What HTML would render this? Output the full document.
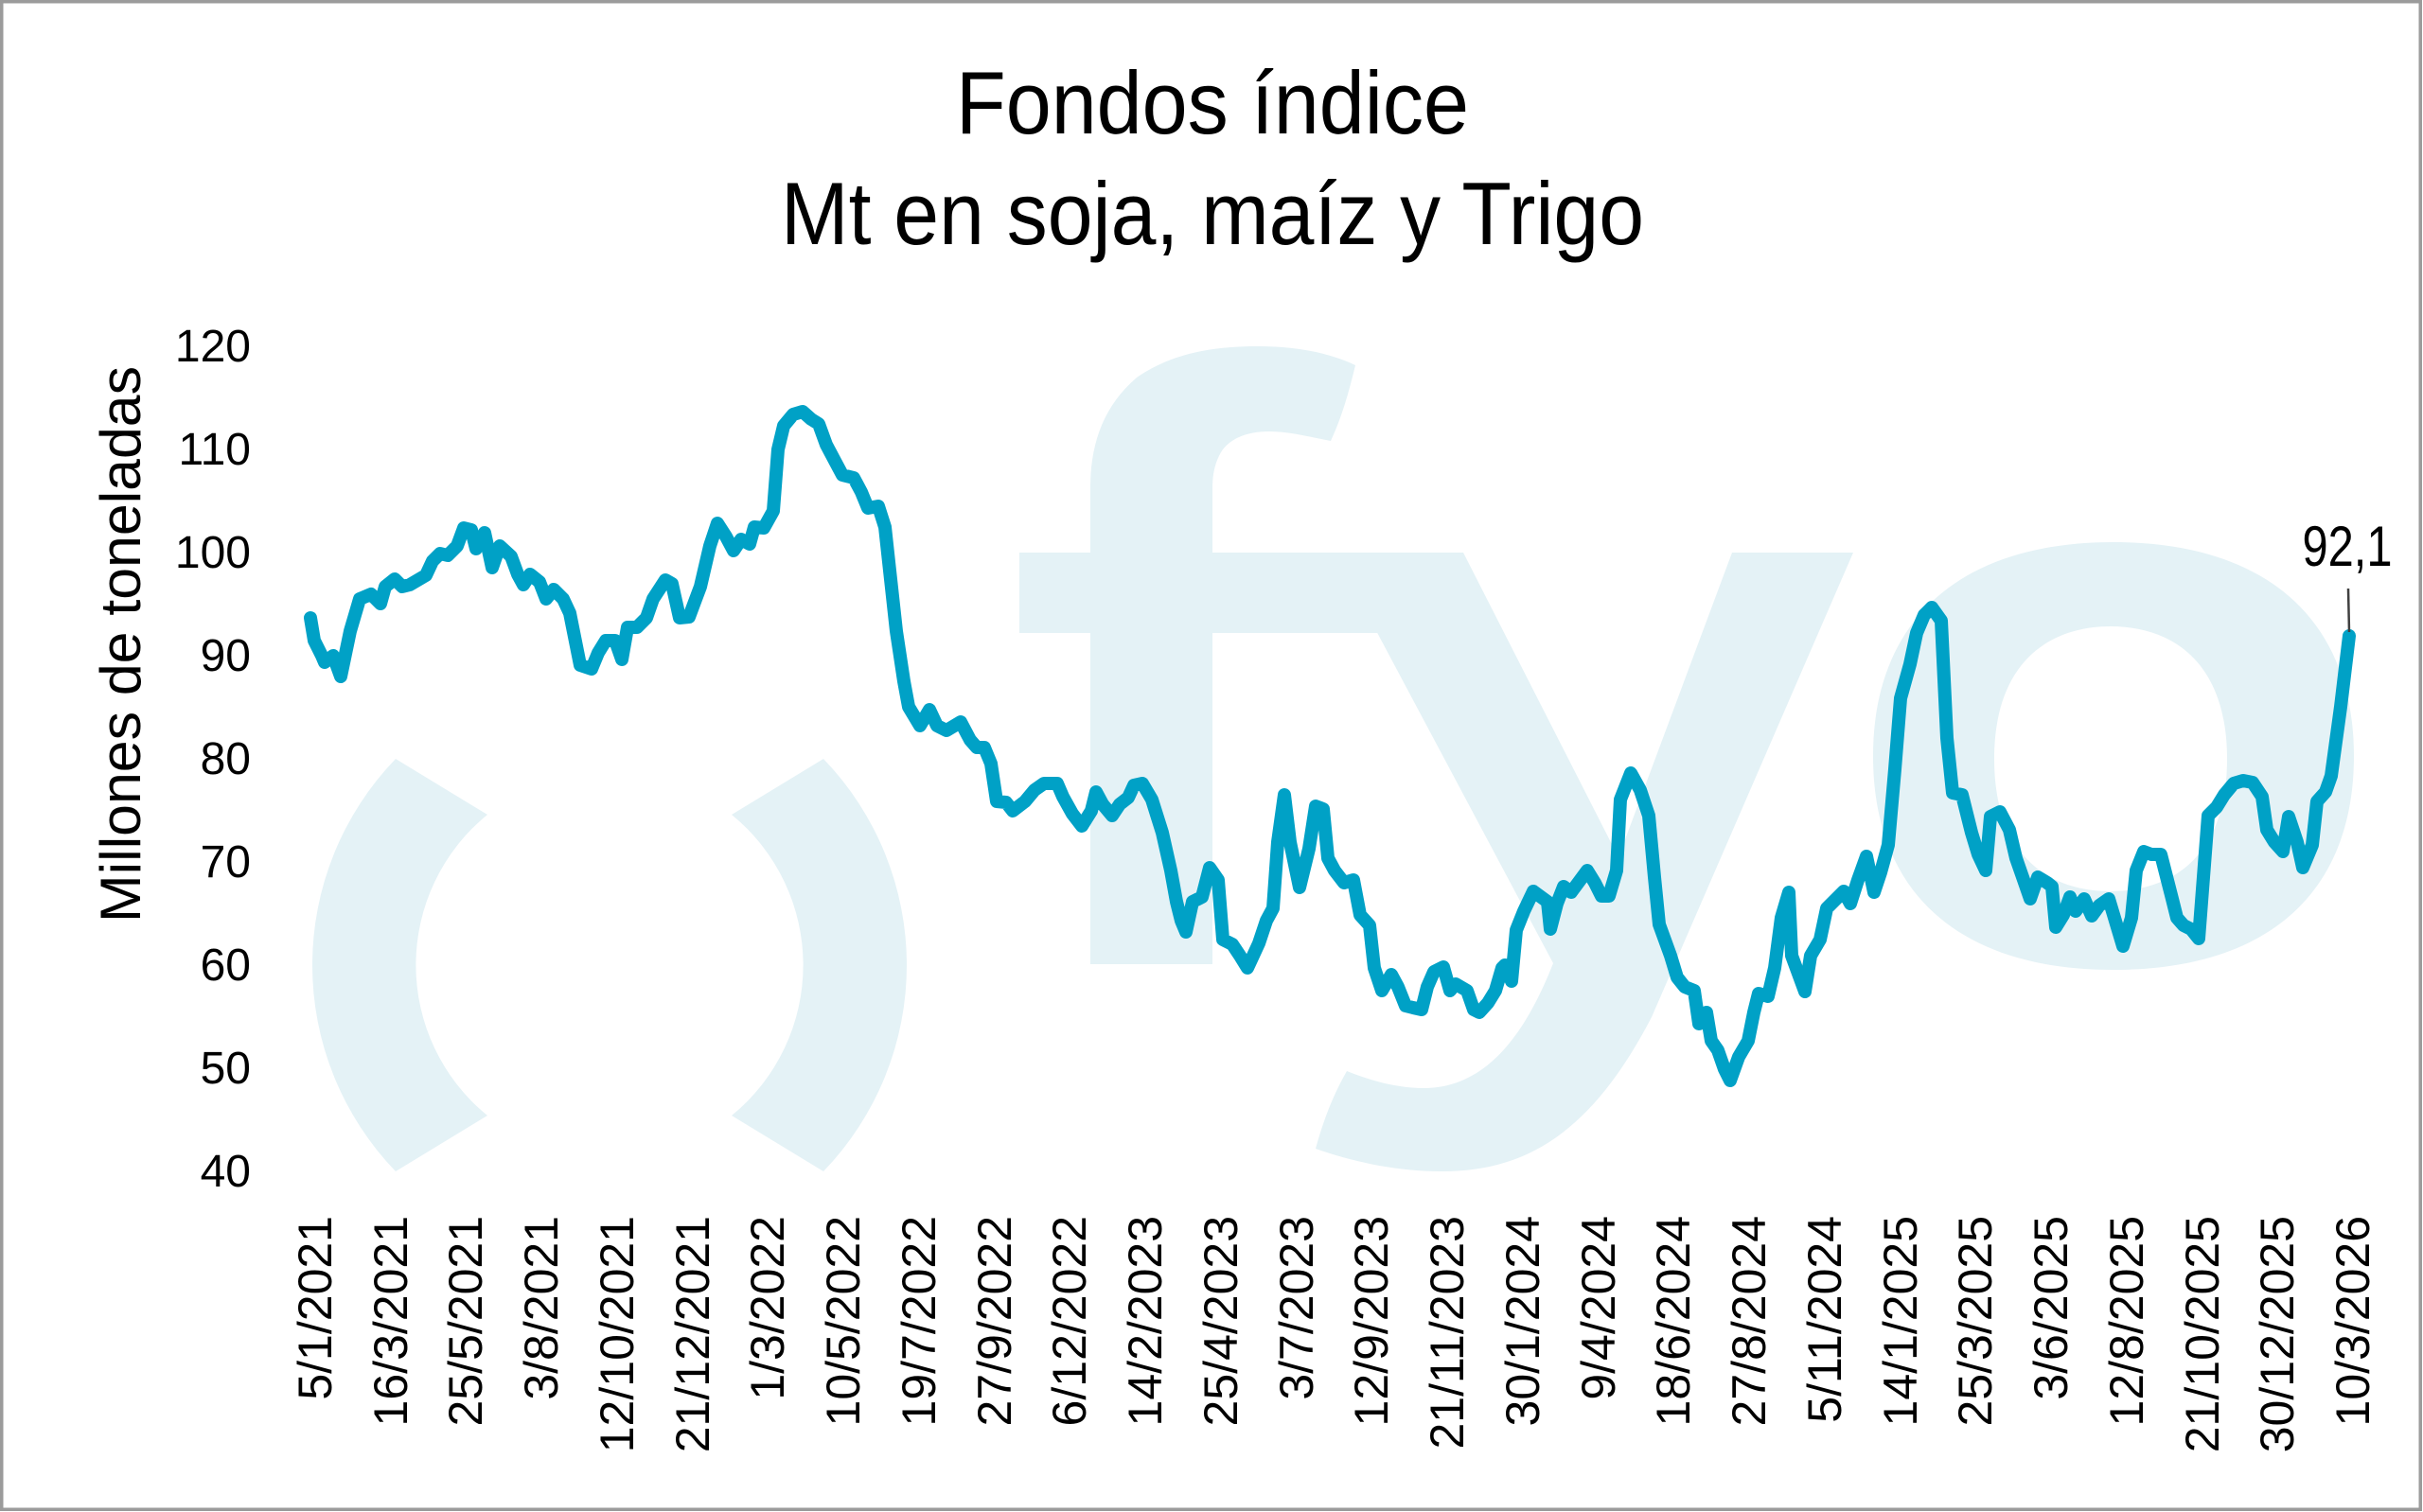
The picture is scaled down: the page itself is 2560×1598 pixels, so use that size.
<!DOCTYPE html>
<html>
<head>
<meta charset="utf-8">
<style>
  html, body { margin: 0; padding: 0; background: #ffffff; }
  body { width: 2560px; height: 1598px; overflow: hidden; }
  svg { display: block; }
  text { font-family: "Liberation Sans", "DejaVu Sans", sans-serif; fill: #000; }
</style>
</head>
<body>
<svg width="2560" height="1598" viewBox="0 0 2560 1598" xmlns="http://www.w3.org/2000/svg">
  <rect x="0" y="0" width="2560" height="1598" fill="#ffffff"/>

  <!-- Watermark logo -->
  <g fill="#e4f2f6">
    <!-- left arc -->
    <path d="M418,802 A314,314 0 0,0 418,1238 L515,1179 A205,205 0 0,1 515,861 Z"/>
    <!-- right arc -->
    <path d="M870,802 A314,314 0 0,1 870,1238 L773,1179 A205,205 0 0,0 773,861 Z"/>
    <!-- f stem + hook -->
    <path d="M1152,1019 L1152,516 C1152,470 1165,430 1201,399 C1240,372 1285,366 1329,366 C1370,366 1405,373 1432,386 C1425,415 1418,440 1406,466 C1385,462 1362,456 1341,456 C1315,456 1298,465 1290,478 C1283,490 1281,503 1281,516 L1281,1019 Z"/>
    <!-- f crossbar -->
    <rect x="1077" y="584" width="400" height="85"/>
    <!-- y -->
    <path d="M1410,584 L1546,584 L1710,906 L1830,584 L1958,584 L1745,1075 C1680,1200 1610,1238 1523,1238 C1475,1238 1430,1228 1390,1214 C1398,1185 1408,1158 1423,1132 C1450,1143 1478,1150 1504,1150 C1560,1150 1605,1110 1641,1018 Z"/>
    <!-- o -->
    <path fill-rule="evenodd" d="M2233,573 C2400,573 2487,660 2487,799 C2487,940 2400,1025 2233,1025 C2066,1025 1979,940 1979,799 C1979,660 2066,573 2233,573 Z M2230,662 C2165,662 2107,700 2107,802 C2107,905 2165,942 2230,942 C2295,942 2353,905 2353,802 C2353,700 2295,662 2230,662 Z"/>
  </g>

  <!-- Title -->
  <text x="1281" y="141" font-size="94" text-anchor="middle" textLength="542" lengthAdjust="spacingAndGlyphs">Fondos índice</text>
  <text x="1281" y="258" font-size="94" text-anchor="middle" textLength="912" lengthAdjust="spacingAndGlyphs">Mt en soja, maíz y Trigo</text>

  <!-- Y axis title -->
  <text transform="translate(148,681) rotate(-90)" font-size="60" text-anchor="middle" textLength="588" lengthAdjust="spacingAndGlyphs">Millones de toneladas</text>

  <!-- Y tick labels -->
  <g font-size="48" text-anchor="end">
    <text x="265" y="382">120</text>
    <text x="265" y="491">110</text>
    <text x="265" y="600">100</text>
    <text x="265" y="709">90</text>
    <text x="265" y="818">80</text>
    <text x="265" y="927">70</text>
    <text x="265" y="1036">60</text>
    <text x="265" y="1145">50</text>
    <text x="265" y="1254">40</text>
  </g>

  <!-- X tick labels -->
  <g font-size="50" text-anchor="end">
    <text transform="translate(350,1285) rotate(-90)">5/1/2021</text>
    <text transform="translate(430,1285) rotate(-90)">16/3/2021</text>
    <text transform="translate(509,1285) rotate(-90)">25/5/2021</text>
    <text transform="translate(589,1285) rotate(-90)">3/8/2021</text>
    <text transform="translate(669,1285) rotate(-90)">12/10/2021</text>
    <text transform="translate(749,1285) rotate(-90)">21/12/2021</text>
    <text transform="translate(828,1285) rotate(-90)">1/3/2022</text>
    <text transform="translate(908,1285) rotate(-90)">10/5/2022</text>
    <text transform="translate(988,1285) rotate(-90)">19/7/2022</text>
    <text transform="translate(1068,1285) rotate(-90)">27/9/2022</text>
    <text transform="translate(1147,1285) rotate(-90)">6/12/2022</text>
    <text transform="translate(1227,1285) rotate(-90)">14/2/2023</text>
    <text transform="translate(1307,1285) rotate(-90)">25/4/2023</text>
    <text transform="translate(1387,1285) rotate(-90)">3/7/2023</text>
    <text transform="translate(1466,1285) rotate(-90)">12/9/2023</text>
    <text transform="translate(1546,1285) rotate(-90)">21/11/2023</text>
    <text transform="translate(1626,1285) rotate(-90)">30/1/2024</text>
    <text transform="translate(1706,1285) rotate(-90)">9/4/2024</text>
    <text transform="translate(1785,1285) rotate(-90)">18/6/2024</text>
    <text transform="translate(1865,1285) rotate(-90)">27/8/2024</text>
    <text transform="translate(1945,1285) rotate(-90)">5/11/2024</text>
    <text transform="translate(2025,1285) rotate(-90)">14/1/2025</text>
    <text transform="translate(2104,1285) rotate(-90)">25/3/2025</text>
    <text transform="translate(2184,1285) rotate(-90)">3/6/2025</text>
    <text transform="translate(2264,1285) rotate(-90)">12/8/2025</text>
    <text transform="translate(2344,1285) rotate(-90)">21/10/2025</text>
    <text transform="translate(2423,1285) rotate(-90)">30/12/2025</text>
    <text transform="translate(2503,1285) rotate(-90)">10/3/2026</text>
  </g>

  <!-- Series line -->
  <polyline fill="none" stroke="#00a1c6" stroke-width="14" stroke-linejoin="round" stroke-linecap="round" points="
328,653 332,677 340,693 343,700 352,693 360,715 370,667 380,633 392,628 402,638 407,620 417,612 425,620 433,618 450,608 457,593 465,585 473,587 483,577 490,558 498,560 503,580 512,563 520,600 528,577 540,588 547,607 553,618 560,607 570,615 577,633 585,623 595,633 602,648 613,703 625,707 632,690 640,677 650,677 657,697 663,663 673,663 683,653 690,633 703,613 710,617 718,653 728,652 740,620 750,577 758,553 767,567 775,582 783,570
792,575 797,557 807,558 817,540 822,475 828,450 838,438 848,435 857,443 865,448 873,470 882,487 890,502 902,505 910,520 917,537 928,535 935,557 940,603 947,667 955,720 960,747 972,767 982,750 990,767 1000,772 1015,763 1025,782 1032,790 1040,790 1047,807 1053,847 1063,848 1070,857 1083,847 1093,835 1103,828 1117,828 1123,842 1133,860 1143,873 1153,857 1158,837 1165,850 1175,862 1183,850 1192,843 1198,830 1207,828 1217,845
1228,880 1237,920 1243,953 1248,973 1253,985 1260,953 1270,948 1278,917 1287,930 1292,993 1302,998 1310,1010 1318,1023 1330,997 1338,973 1345,960 1350,890 1357,840 1363,890 1373,938 1383,897 1390,852 1398,855 1403,907 1410,920 1420,933 1430,930 1437,967 1447,978 1452,1023 1460,1047 1470,1030 1477,1043 1485,1063 1493,1065 1502,1067 1508,1043 1515,1027 1525,1022 1532,1047 1538,1040 1550,1047 1557,1067 1563,1070 1572,1060 1580,1047 1587,1023 1590,1020 1597,1037 1602,983 1610,963 1620,942 1635,953 1638,982 1645,955 1652,937 1660,943 1677,920 1685,933 1692,947
1700,947 1708,920 1712,845 1723,817 1733,835 1742,862 1748,927 1753,977 1765,1010 1772,1033 1780,1043 1790,1047 1795,1082 1803,1070 1808,1100 1815,1110 1822,1130 1828,1142 1837,1117 1847,1100 1853,1070 1858,1050 1868,1053 1875,1023 1882,970 1890,943 1893,1010 1907,1048 1913,1010 1923,993 1930,960 1938,952 1948,942 1955,955 1963,930 1972,905 1980,943 1987,922 1995,893 2002,813 2008,738 2018,702 2025,669 2033,650 2041,642 2051,656 2057,780 2063,838 2073,840 2083,880 2090,903 2098,920 2103,863 2113,858 2123,877 2130,907 2137,927 2145,950 2153,927 2163,933
2168,937 2172,980 2180,967 2187,948 2193,963 2202,950 2210,968 2218,957 2228,950 2243,1000 2252,970 2257,920 2265,900 2273,903 2283,903 2295,950 2300,970 2307,978 2315,982 2323,992 2333,862 2342,853 2350,840 2360,828 2370,825 2380,827 2390,842 2395,877 2403,890 2412,900 2418,863 2427,890 2433,917 2443,893 2448,847 2457,837 2463,820 2473,747 2482,672"/>

  <!-- Data label -->
  <line x1="2481" y1="622" x2="2482" y2="668" stroke="#404040" stroke-width="2.5"/>
  <text x="2480" y="598" font-size="60" text-anchor="middle" textLength="95" lengthAdjust="spacingAndGlyphs">92,1</text>

  <!-- Border -->
  <rect x="1.75" y="1.75" width="2555.5" height="1593.5" fill="none" stroke="#9b9b9b" stroke-width="3.5"/>
</svg>
</body>
</html>
